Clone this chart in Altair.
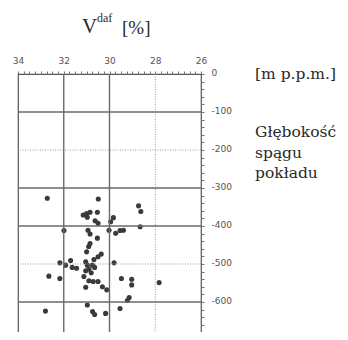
import altair as alt
import pandas as pd

# V^daf [%] values and floor depth [m p.p.m.]
vdaf = [32.72, 30.49, 28.73, 28.63, 31.15, 31.00, 30.85, 30.53, 30.97, 30.63,
        30.50, 29.83, 29.95, 31.99, 30.94, 30.85, 30.02, 29.73, 29.54, 29.39,
        28.66, 30.53, 30.85, 30.91, 31.00, 30.36, 30.50, 30.68, 32.17, 31.70,
        31.92, 31.63, 31.44, 31.04, 30.97, 30.75, 30.90, 30.65, 30.80, 31.04,
        29.80, 32.65, 32.17, 31.12, 30.90, 30.71, 30.50, 29.48, 29.03, 29.03,
        27.83, 31.04, 30.31, 30.12, 29.14, 29.22, 30.97, 29.54, 32.80, 30.74,
        30.65, 30.17]
depth = [-327, -329, -347, -362, -371, -367, -364, -364, -377, -386,
         -393, -378, -389, -412, -411, -421, -411, -419, -412, -411,
         -402, -432, -446, -454, -468, -474, -481, -488, -497, -491,
         -503, -509, -511, -494, -503, -503, -514, -509, -523, -518,
         -497, -532, -538, -533, -544, -546, -546, -538, -540, -555,
         -549, -561, -560, -568, -588, -596, -608, -617, -624, -625,
         -633, -630]

grid_solid_x = [32, 30]
grid_dotted_x = [28]
grid_solid_y = [-100, -300, -400, -600]
grid_dotted_y = [-200, -500]
x_minor_ticks = [34 - 0.25 * i for i in range(33)]
y_minor_ticks = [-20 * i for i in range(36)]

title_main = ["V"]
title_sup = ["daf"]
title_unit = ["[%]"]
unit_right = ["[m p.p.m.]"]
label_right = ["Głębokość\nspągu\npokładu"]

x_scale = alt.Scale(domain=[26, 34], reverse=True, nice=False, zero=False)
y_scale = alt.Scale(domain=[-700, 0], nice=False, zero=False)

x_axis = alt.Axis(orient="top", values=x_minor_ticks,
                  labelExpr="datum.value % 2 == 0 ? '' + datum.value : ''",
                  grid=False, domain=False, tickSize=3, tickColor="#777",
                  labelFont="DejaVu Sans", labelFontSize=9, labelColor="#555",
                  labelPadding=6, labelFlush=False, labelOverlap=False, title=None)
y_axis = alt.Axis(orient="right", values=y_minor_ticks,
                  labelExpr="datum.value % 100 == 0 ? '' + datum.value : ''",
                  grid=False, domain=False, tickSize=3, tickColor="#777",
                  labelFont="DejaVu Sans", labelFontSize=9, labelColor="#555",
                  labelPadding=7, labelOffset=-2, labelFlush=False, labelOverlap=False,
                  labelAlign="left", title=None)

df = pd.DataFrame({"v": vdaf, "d": depth})

points = alt.Chart(df).mark_circle(size=26, color="#3a3a3a", opacity=1).encode(
    x=alt.X("v:Q", scale=x_scale, axis=x_axis),
    y=alt.Y("d:Q", scale=y_scale, axis=y_axis),
)

gsx = alt.Chart(pd.DataFrame({"v": grid_solid_x})).mark_rule(
    color="#6a6a6a", strokeWidth=1.4).encode(x=alt.X("v:Q", scale=x_scale, axis=x_axis))
gdx = alt.Chart(pd.DataFrame({"v": grid_dotted_x})).mark_rule(
    color="#999", strokeWidth=1, strokeDash=[1, 1.5]).encode(x=alt.X("v:Q", scale=x_scale, axis=x_axis))
gsy = alt.Chart(pd.DataFrame({"d": grid_solid_y})).mark_rule(
    color="#6a6a6a", strokeWidth=1.4).encode(y=alt.Y("d:Q", scale=y_scale, axis=y_axis))
gdy = alt.Chart(pd.DataFrame({"d": grid_dotted_y})).mark_rule(
    color="#999", strokeWidth=1, strokeDash=[1, 1.5]).encode(y=alt.Y("d:Q", scale=y_scale, axis=y_axis))


def txt(values, x, y, size, font="Liberation Serif", **kw):
    return alt.Chart(pd.DataFrame({"t": values})).mark_text(
        align="left", baseline="alphabetic", font=font,
        fontSize=size, color="#2a2a2a", **kw).encode(
        x=alt.value(x), y=alt.value(y), text="t:N")


t1 = txt(title_main, 64, -41, 21)
t2 = txt(title_sup, 79, -52, 12)
t3 = txt(title_unit, 104, -40, 19)
t4 = txt(unit_right, 237, 5, 15.5, font="DejaVu Serif")
t5 = txt(label_right, 237, 63, 15.5, font="DejaVu Serif", lineBreak="\n", lineHeight=20.5)

chart = alt.layer(points, gsx, gdx, gsy, gdy, t1, t2, t3, t4, t5).properties(
    width=183, height=266, autosize="none",
    padding={"left": 10, "top": 66, "right": 139, "bottom": -8},
).configure_view(stroke="#555", strokeWidth=1.2)

chart.save("out.html", embed_options={"renderer": "svg", "actions": False})
